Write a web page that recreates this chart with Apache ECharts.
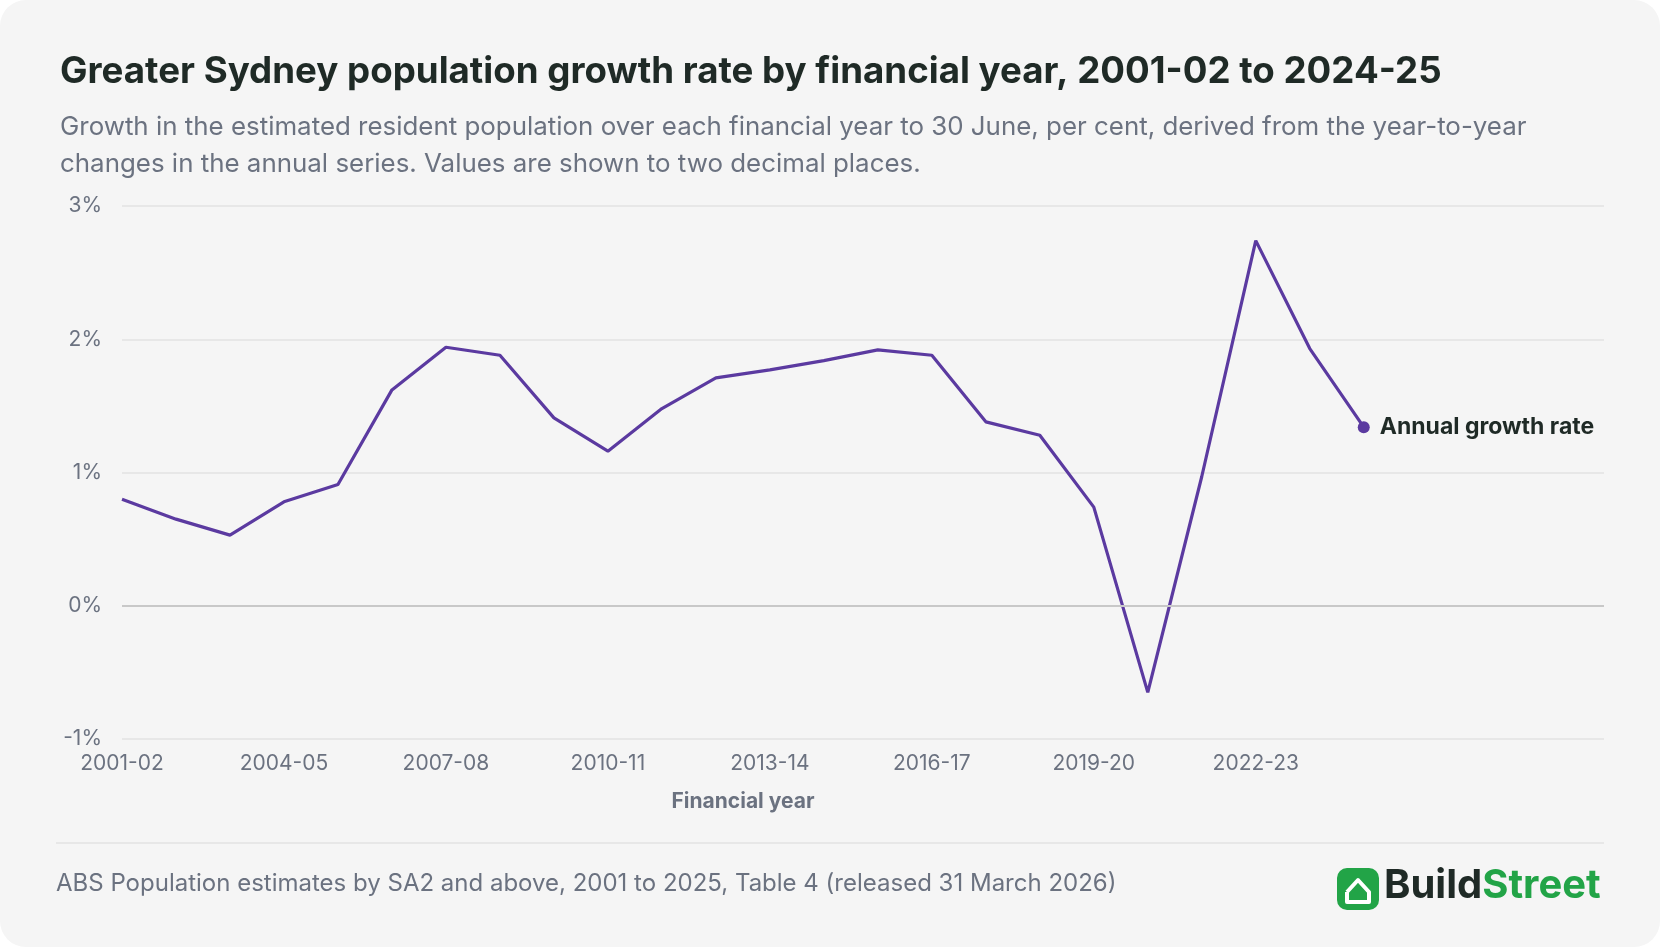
<!DOCTYPE html>
<html><head><meta charset="utf-8">
<script src="https://cdn.jsdelivr.net/npm/echarts@6/dist/echarts.min.js"></script>
<style>
html,body{margin:0;padding:0;background:#fff;}
#card{position:absolute;left:0;top:0;width:1660px;height:947px;background:#f5f5f5;border-radius:26px;}
#chart{width:1660px;height:947px;}
</style></head><body>
<div id="card"><div id="chart"></div></div>
<script>
const years = ['2001-02','2002-03','2003-04','2004-05','2005-06','2006-07','2007-08','2008-09','2009-10','2010-11','2011-12','2012-13','2013-14','2014-15','2015-16','2016-17','2017-18','2018-19','2019-20','2020-21','2021-22','2022-23','2023-24','2024-25'];
const growth = [0.80,0.65,0.53,0.78,0.91,1.62,1.94,1.88,1.41,1.16,1.48,1.71,1.77,1.84,1.92,1.88,1.38,1.28,0.74,-0.65,0.97,2.74,1.93,1.34];
const yTicks = [-1,0,1,2,3];

const font = 'Inter, "Noto Sans", sans-serif';
const chart = echarts.init(document.getElementById('chart'));
const pts = growth.map((v,i)=>[i,v]);
chart.setOption({
  animation:false,
  textStyle:{fontFamily:font},
  title:[{
    text:'Greater Sydney population growth rate by financial year, 2001-02 to 2024-25',
    left:55, top:48,
    textStyle:{fontSize:36.7,fontWeight:'bold',color:'#1f2a26',fontFamily:font}
  },{
    text:'Growth in the estimated resident population over each financial year to 30 June, per cent, derived from the year-to-year\nchanges in the annual series. Values are shown to two decimal places.',
    left:55, top:104,
    textStyle:{fontSize:25.9,fontWeight:'normal',color:'#6b7280',lineHeight:37,fontFamily:font}
  }],
  grid:{left:122,right:56,top:206,bottom:208},
  xAxis:{
    type:'value', min:0, max:27.45, interval:3,
    axisLine:{show:false}, axisTick:{show:false}, splitLine:{show:false},
    axisLabel:{fontSize:21,color:'#6b7280',margin:14,
      formatter:v=> years[v] || ''}
  },
  yAxis:{
    type:'value', min:yTicks[0], max:yTicks[yTicks.length-1], interval:1,
    axisLine:{show:false}, axisTick:{show:false},
    axisLabel:{fontSize:21,color:'#6b7280',margin:20,formatter:'{value}%'},
    splitLine:{lineStyle:{color:'#e2e2e2',width:1.5}}
  },
  series:[{
    type:'line', data:pts, symbol:'none',
    lineStyle:{color:'#5b3aa0',width:3.2},
    markLine:{silent:true,symbol:'none',label:{show:false},
      lineStyle:{color:'#c8c8c8',width:2,type:'solid'},data:[{yAxis:0}]},
    markPoint:{
      symbol:'circle', symbolSize:12, itemStyle:{color:'#5b3aa0'},
      data:[{coord:pts[pts.length-1],
        label:{show:true,position:'right',distance:10,formatter:'Annual growth rate',
          fontSize:23,fontWeight:'bold',color:'#1f2a26'}}]
    }
  }],
  graphic:[
    {type:'text',x:743,y:802,style:{text:'Financial year',fontSize:21,fontWeight:'bold',fill:'#6b7280',fontFamily:font,align:'center',verticalAlign:'middle'}},
    {type:'line',shape:{x1:56,y1:843,x2:1604,y2:843},style:{stroke:'#e2e2e2',lineWidth:1.5}},
    {type:'text',left:56,top:872,style:{text:'ABS Population estimates by SA2 and above, 2001 to 2025, Table 4 (released 31 March 2026)',fontSize:24,fill:'#6b7280',fontFamily:font}},
    {type:'rect',shape:{x:1337,y:868,width:42,height:42,r:10},style:{fill:'#22a447'}},
    {type:'polyline',shape:{points:[[1347,892],[1358,880],[1369,892],[1369,902],[1347,902],[1347,892]]},style:{stroke:'#fff',lineWidth:4,fill:null,lineJoin:'round'}},
    {type:'text',left:1384,top:866,style:{rich:{a:{fontSize:40,fontWeight:'bold',fill:'#1f2a26',fontFamily:font},b:{fontSize:40,fontWeight:'bold',fill:'#22a447',fontFamily:font}},text:'{a|Build}{b|Street}'}}
  ]
});
</script>
</body></html>
